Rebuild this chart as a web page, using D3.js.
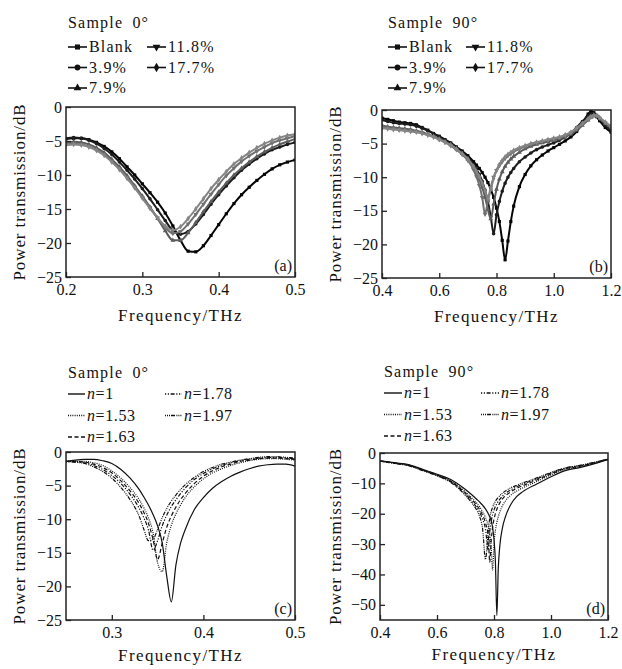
<!DOCTYPE html>
<html>
<head>
<meta charset="utf-8">
<script src="https://cdn.jsdelivr.net/npm/d3@7"></script>
<style>
body { margin: 0; background: #fff; }
svg text { font-family: "Times New Roman", "Liberation Serif", Tinos, serif; fill: #111; }
</style>
</head>
<body>
<svg id="chart"></svg>
<script>
// ---- (a) sample 0 deg, concentrations ----
var freqA = [0.20,0.21,0.22,0.23,0.24,0.25,0.26,0.27,0.28,0.29,0.30,0.31,0.32,0.33,0.34,0.35,0.36,0.37,0.38,0.39,0.40,0.41,0.42,0.43,0.44,0.45,0.46,0.47,0.48,0.49,0.50];
var blankA = [-4.7,-4.6,-4.6,-4.8,-5.2,-5.8,-6.6,-7.6,-8.8,-10.0,-11.3,-12.6,-14.0,-15.6,-17.5,-19.6,-21.2,-21.3,-20.4,-18.9,-17.3,-15.7,-14.2,-12.9,-11.8,-10.8,-9.9,-9.1,-8.5,-8.1,-7.8];
var p39A = [-4.6,-4.5,-4.6,-4.9,-5.4,-6.1,-7.0,-8.1,-9.3,-10.6,-12.0,-13.5,-15.1,-16.7,-18.2,-18.7,-18.3,-17.2,-15.8,-14.3,-12.9,-11.6,-10.4,-9.3,-8.4,-7.6,-6.9,-6.3,-5.9,-5.5,-5.2];
var p79A = [-5.2,-5.1,-5.2,-5.5,-6.0,-6.7,-7.7,-8.8,-10.1,-11.6,-13.1,-14.7,-16.4,-18.2,-19.6,-19.6,-18.5,-17.0,-15.4,-13.9,-12.5,-11.2,-10.0,-9.0,-8.1,-7.3,-6.6,-6.0,-5.5,-5.1,-4.7];
var p118A = [-5.5,-5.4,-5.5,-5.8,-6.3,-7.0,-8.0,-9.1,-10.4,-11.8,-13.3,-14.8,-16.3,-17.7,-18.6,-18.3,-17.2,-15.8,-14.3,-12.8,-11.4,-10.1,-9.0,-8.0,-7.2,-6.5,-5.9,-5.3,-4.9,-4.6,-4.3];
var p177A = [-5.6,-5.5,-5.6,-5.9,-6.4,-7.1,-8.1,-9.2,-10.5,-11.9,-13.4,-14.9,-16.3,-17.5,-18.1,-17.6,-16.4,-15.0,-13.5,-12.0,-10.7,-9.5,-8.4,-7.5,-6.7,-6.0,-5.4,-4.9,-4.5,-4.2,-4.0];

// ---- (b) sample 90 deg, concentrations ----
var freqB = [0.40,0.42,0.44,0.46,0.48,0.50,0.52,0.54,0.56,0.58,0.60,0.62,0.64,0.66,0.68,0.70,
  0.72,0.73,0.74,0.75,0.76,0.77,0.78,0.79,0.80,0.81,0.82,0.83,0.84,0.85,0.86,
  0.88,0.90,0.92,0.94,0.96,0.98,1.00,1.02,1.04,1.06,1.08,1.10,1.12,1.13,1.14,1.15,1.16,1.18,1.20];
var blankB = [-1.2,-1.4,-1.6,-1.8,-1.9,-2.0,-2.2,-2.6,-3.0,-3.5,-3.9,-4.4,-4.9,-5.5,-6.1,-6.8,
  -7.7,-8.2,-8.7,-9.3,-10.0,-10.8,-11.8,-13.0,-14.6,-16.6,-19.4,-22.3,-19.5,-16.6,-14.3,
  -11.4,-9.6,-8.3,-7.4,-6.7,-6.1,-5.6,-5.1,-4.6,-4.0,-3.2,-2.0,-0.6,-0.2,-0.4,-1.0,-1.6,-2.6,-3.3];
var p39B = [-1.5,-1.7,-1.9,-2.0,-2.1,-2.2,-2.4,-2.7,-3.1,-3.5,-4.0,-4.5,-5.0,-5.6,-6.3,-7.1,
  -8.1,-8.8,-9.6,-10.6,-11.9,-13.6,-15.9,-18.4,-15.6,-13.6,-12.1,-10.9,-10.0,-9.3,-8.7,
  -7.7,-7.0,-6.4,-5.9,-5.5,-5.2,-4.9,-4.5,-4.0,-3.4,-2.6,-1.7,-0.9,-0.6,-0.5,-0.8,-1.3,-2.3,-3.0];
var p79B = [-2.3,-2.5,-2.6,-2.7,-2.8,-2.9,-3.1,-3.3,-3.6,-3.9,-4.3,-4.7,-5.2,-5.8,-6.5,-7.3,
  -8.5,-9.3,-10.3,-11.5,-13.0,-14.8,-16.2,-14.0,-11.8,-10.3,-9.2,-8.4,-7.8,-7.3,-6.9,
  -6.3,-5.8,-5.4,-5.1,-4.9,-4.7,-4.5,-4.3,-4.0,-3.6,-3.0,-2.3,-1.5,-1.1,-0.8,-0.9,-1.3,-2.0,-2.6];
var p118B = [-2.5,-2.7,-2.8,-2.9,-3.0,-3.1,-3.2,-3.4,-3.7,-4.0,-4.4,-4.8,-5.3,-5.9,-6.6,-7.5,
  -8.9,-9.9,-11.2,-13.0,-15.5,-13.5,-11.5,-10.0,-9.0,-8.3,-7.7,-7.2,-6.8,-6.5,-6.2,
  -5.8,-5.4,-5.1,-4.9,-4.7,-4.5,-4.3,-4.1,-3.8,-3.4,-2.8,-2.1,-1.4,-1.0,-0.8,-0.9,-1.2,-1.9,-2.5];
var p177B = [-2.7,-2.8,-2.9,-3.0,-3.1,-3.2,-3.3,-3.5,-3.7,-4.0,-4.4,-4.8,-5.2,-5.8,-6.5,-7.3,
  -8.4,-9.1,-9.9,-10.9,-12.0,-13.2,-11.8,-10.2,-9.0,-8.1,-7.5,-7.0,-6.6,-6.3,-6.0,
  -5.6,-5.3,-5.0,-4.8,-4.6,-4.4,-4.2,-4.0,-3.7,-3.3,-2.7,-2.0,-1.3,-1.0,-0.8,-0.8,-1.1,-1.8,-2.4];

// ---- (c) sample 0 deg, refractive index ----
var freqC = [0.25,0.26,0.27,0.28,0.29,0.30,0.31,0.32,0.33,
  0.335,0.34,0.345,0.35,0.355,0.36,0.365,0.37,0.375,0.38,
  0.39,0.40,0.41,0.42,0.43,0.44,0.45,0.46,0.47,0.48,0.49,0.50];
var n100C = [-1.4,-1.2,-1.1,-1.1,-1.3,-1.7,-2.6,-3.9,-5.6,
  -6.7,-7.9,-9.3,-11.0,-13.5,-18.5,-22.3,-16.8,-13.6,-11.6,
  -8.6,-6.8,-5.4,-4.4,-3.6,-3.0,-2.5,-2.1,-1.9,-1.8,-1.8,-2.1];
var n153C = [-1.5,-1.4,-1.4,-1.6,-2.0,-2.8,-3.9,-5.3,-7.1,
  -8.3,-9.8,-12.0,-16.5,-17.8,-13.5,-10.9,-9.2,-7.9,-6.8,
  -5.2,-4.0,-3.1,-2.5,-2.0,-1.6,-1.3,-1.1,-1.0,-1.0,-1.1,-1.2];
var n163C = [-1.4,-1.4,-1.5,-1.8,-2.3,-3.1,-4.3,-5.8,-7.7,
  -9.0,-10.6,-13.0,-16.0,-13.6,-11.2,-9.5,-8.2,-7.1,-6.2,
  -4.7,-3.6,-2.8,-2.2,-1.8,-1.4,-1.2,-1.0,-0.9,-0.9,-1.0,-1.1];
var n178C = [-1.4,-1.5,-1.6,-2.0,-2.6,-3.5,-4.7,-6.3,-8.4,
  -9.8,-11.6,-14.6,-13.2,-11.0,-9.4,-8.1,-7.1,-6.2,-5.4,
  -4.1,-3.2,-2.5,-2.0,-1.6,-1.3,-1.1,-0.9,-0.8,-0.8,-0.9,-1.0];
var n197C = [-1.3,-1.5,-1.7,-2.2,-2.9,-3.9,-5.3,-7.1,-9.6,
  -11.5,-13.2,-13.0,-11.5,-9.8,-8.4,-7.3,-6.4,-5.6,-4.9,
  -3.8,-2.9,-2.3,-1.8,-1.5,-1.2,-1.0,-0.8,-0.7,-0.7,-0.8,-0.9];

// ---- (d) sample 90 deg, refractive index ----
var freqD = [0.40,0.45,0.50,0.55,0.60,0.65,0.70,
  0.72,0.74,0.75,0.76,0.77,0.78,0.785,0.79,0.795,0.80,0.805,0.81,0.815,0.82,0.83,0.84,
  0.86,0.88,0.90,0.95,1.00,1.05,1.10,1.15,1.20];
var n100D = [-2.5,-3.2,-3.8,-5.4,-7.0,-8.8,-12.0,
  -13.6,-15.3,-16.2,-17.2,-18.4,-20.0,-21.0,-22.3,-24.5,-28.5,-36.0,-53.5,-38.0,-31.0,-24.5,-21.0,
  -16.8,-14.3,-12.8,-10.2,-7.8,-5.8,-4.8,-3.6,-2.2];
var n153D = [-2.6,-3.3,-4.0,-5.6,-7.2,-9.2,-12.8,
  -14.6,-16.6,-17.8,-19.3,-21.2,-24.0,-26.5,-31.0,-38.5,-30.0,-25.5,-22.8,-21.0,-19.5,-17.3,-15.8,
  -13.8,-12.5,-11.5,-9.4,-7.2,-5.4,-4.5,-3.4,-2.1];
var n163D = [-2.6,-3.3,-4.0,-5.6,-7.3,-9.4,-13.2,
  -15.1,-17.3,-18.7,-20.5,-23.0,-27.5,-36.0,-29.0,-24.5,-21.8,-19.9,-18.5,-17.4,-16.5,-15.1,-14.1,
  -12.7,-11.6,-10.8,-8.9,-6.9,-5.2,-4.4,-3.3,-2.1];
var n178D = [-2.7,-3.4,-4.1,-5.7,-7.4,-9.6,-13.6,
  -15.6,-18.0,-19.6,-21.8,-25.0,-32.0,-26.0,-22.5,-20.3,-18.8,-17.6,-16.7,-15.9,-15.3,-14.2,-13.3,
  -12.1,-11.1,-10.3,-8.5,-6.6,-5.0,-4.2,-3.2,-2.0];
var n197D = [-2.7,-3.4,-4.2,-5.8,-7.5,-9.8,-14.0,
  -16.2,-18.9,-21.0,-25.0,-35.0,-25.5,-21.5,-19.3,-17.9,-16.8,-15.9,-15.2,-14.6,-14.1,-13.2,-12.5,
  -11.4,-10.6,-9.9,-8.2,-6.4,-4.9,-4.1,-3.1,-2.0];

// labels and ticks
var concLabels = ["Blank", "3.9%", "7.9%", "11.8%", "17.7%"];
var nLabels = ["1", "1.53", "1.63", "1.78", "1.97"];
var ticksX_A = [0.2, 0.3, 0.4, 0.5];
var ticksX_B = [0.4, 0.6, 0.8, 1.0, 1.2];
var ticksX_C = [0.3, 0.4, 0.5];
var ticksY_25 = [0, -5, -10, -15, -20, -25];
var ticksY_D = [0, -10, -20, -30, -40, -50];

var symbols = [d3.symbolSquare, d3.symbolCircle, d3.symbolTriangle, d3.symbolTriangle, d3.symbolDiamond];
var symbolRot = [0, 0, 0, 180, 0];
var concColors = ["#050505", "#1c1c1c", "#5c5c5c", "#707070", "#858585"];
var dashes = [null, "1,1.2", "4,2.5", "1.2,1.6,1.2,1.6,4,1.6", "1,1,1,1,1,1,4,1.4"];
var serif = '"Times New Roman", "Liberation Serif", Tinos, serif';

var svg = d3.select('#chart').attr('width', 622).attr('height', 669);

function drawPanel(p) {
    var x = d3.scaleLinear().domain(p.xDomain).range([p.left, p.right]);
    var y = d3.scaleLinear().domain(p.yDomain).range([p.bottom, p.top]);
    var g = svg.append('g');

    var clipId = 'clip' + p.tag;
    g.append('clipPath').attr('id', clipId)
        .append('rect')
        .attr('x', p.left).attr('y', p.top)
        .attr('width', p.right - p.left).attr('height', p.bottom - p.top);

    var line = d3.line()
        .x(function(d) { return x(d[0]); })
        .y(function(d) { return y(d[1]); })
        .curve(d3.curveMonotoneX);

    var plot = g.append('g').attr('clip-path', 'url(#' + clipId + ')');

    p.series.forEach(function(values, i) {
        var pts = p.freq.map(function(f, j) { return [f, values[j]]; });
        var path = plot.append('path')
            .datum(pts)
            .attr('d', line)
            .attr('fill', 'none')
            .attr('stroke', p.markers ? concColors[i] : '#111')
            .attr('stroke-width', p.markers ? 2 : 1.2);
        if (!p.markers && dashes[i]) path.attr('stroke-dasharray', dashes[i]);

        if (p.markers) {
            plot.selectAll('.m' + i)
                .data(pts)
                .enter()
                .append('path')
                .attr('d', d3.symbol().type(symbols[i]).size(10))
                .attr('transform', function(d) {
                    return 'translate(' + x(d[0]) + ',' + y(d[1]) + ') rotate(' + symbolRot[i] + ')';
                })
                .attr('fill', concColors[i]);
        }
    });

    // frame
    g.append('rect')
        .attr('x', p.left).attr('y', p.top)
        .attr('width', p.right - p.left).attr('height', p.bottom - p.top)
        .attr('fill', 'none').attr('stroke', '#222').attr('stroke-width', 1.5);

    var xAxis = g.append('g')
        .attr('transform', 'translate(0,' + p.bottom + ')')
        .call(d3.axisBottom(x).tickValues(p.xTicks).tickFormat(d3.format('.1f'))
            .tickSizeInner(-5).tickSizeOuter(0).tickPadding(7));
    var yAxis = g.append('g')
        .attr('transform', 'translate(' + p.left + ',0)')
        .call(d3.axisLeft(y).tickValues(p.yTicks).tickFormat(d3.format('d'))
            .tickSizeInner(-5).tickSizeOuter(0).tickPadding(4));

    [xAxis, yAxis].forEach(function(a) {
        a.attr('font-family', serif);
        a.select('.domain').remove();
        a.selectAll('line').attr('stroke', '#222').attr('stroke-width', 1.3);
        a.selectAll('text').attr('font-size', 16).attr('fill', '#111');
    });

    // axis titles
    g.append('text')
        .attr('x', (p.left + p.right) / 2)
        .attr('y', p.xTitleY)
        .attr('text-anchor', 'middle')
        .attr('font-size', 17)
        .attr('letter-spacing', 1.4)
        .text('Frequency/THz');

    g.append('text')
        .attr('transform', 'translate(' + p.yTitleX + ',' + ((p.top + p.bottom) / 2) + ') rotate(-90)')
        .attr('text-anchor', 'middle')
        .attr('font-size', 17)
        .attr('letter-spacing', 0.9)
        .text('Power transmission/dB');

    g.append('text')
        .attr('x', p.right - 3)
        .attr('y', p.bottom - 6)
        .attr('text-anchor', 'end')
        .attr('font-size', 16)
        .text('(' + p.tag + ')');

    drawLegend(p);
}

function drawLegend(p) {
    var lg = svg.append('g');
    var L = p.legend;
    lg.append('text')
        .attr('x', L.x).attr('y', L.y)
        .attr('font-size', 16)
        .attr('letter-spacing', 1.2)
        .attr('word-spacing', 4)
        .text(L.title);

    var labels = p.markers ? concLabels : nLabels;
    labels.forEach(function(lab, i) {
        var col = i < 3 ? 0 : 1;
        var row = i < 3 ? i : i - 3;
        var sx = col === 0 ? L.x : L.x2;
        var by = L.y + L.rowGap0 + row * L.rowGap;
        var my = by - 5;
        var seg = lg.append('line')
            .attr('x1', sx).attr('x2', sx + L.seg)
            .attr('y1', my).attr('y2', my)
            .attr('stroke', '#111')
            .attr('stroke-width', p.markers ? 1.6 : 1.4);
        if (p.markers) {
            lg.append('path')
                .attr('d', d3.symbol().type(symbols[i]).size(26))
                .attr('transform', 'translate(' + (sx + L.seg / 2) + ',' + my + ') rotate(' + symbolRot[i] + ')')
                .attr('fill', '#111');
            lg.append('text')
                .attr('x', sx + L.seg + 2).attr('y', by)
                .attr('font-size', 16)
                .attr('letter-spacing', 1.2)
                .text(lab);
        } else {
            if (dashes[i]) seg.attr('stroke-dasharray', dashes[i]);
            var t = lg.append('text')
                .attr('x', sx + L.seg + 2).attr('y', by)
                .attr('font-size', 16)
                .attr('letter-spacing', 0.6);
            t.append('tspan').attr('font-style', 'italic').text('n');
            t.append('tspan').text('=' + lab);
        }
    });
}

drawPanel({
    tag: 'a', freq: freqA, series: [blankA, p39A, p79A, p118A, p177A], markers: true,
    left: 66, right: 295, top: 107, bottom: 277,
    xDomain: [0.2, 0.5], yDomain: [-25, 0], xTicks: ticksX_A, yTicks: ticksY_25,
    xTitleY: 321, yTitleX: 25,
    legend: { title: 'Sample 0°', x: 68, y: 28, x2: 147, seg: 19, rowGap0: 24, rowGap: 20.5 }
});

drawPanel({
    tag: 'b', freq: freqB, series: [blankB, p39B, p79B, p118B, p177B], markers: true,
    left: 382, right: 611, top: 110, bottom: 278,
    xDomain: [0.4, 1.2], yDomain: [-25, 0], xTicks: ticksX_B, yTicks: ticksY_25,
    xTitleY: 322, yTitleX: 341,
    legend: { title: 'Sample 90°', x: 388, y: 28, x2: 466, seg: 19, rowGap0: 24, rowGap: 20.5 }
});

drawPanel({
    tag: 'c', freq: freqC, series: [n100C, n153C, n163C, n178C, n197C], markers: false,
    left: 66, right: 295, top: 452, bottom: 620,
    xDomain: [0.25, 0.5], yDomain: [-25, 0], xTicks: ticksX_C, yTicks: ticksY_25,
    xTitleY: 661, yTitleX: 25,
    legend: { title: 'Sample 0°', x: 68, y: 378, x2: 165, seg: 17, rowGap0: 21, rowGap: 21.5 }
});

drawPanel({
    tag: 'd', freq: freqD, series: [n100D, n153D, n163D, n178D, n197D], markers: false,
    left: 380, right: 608, top: 453, bottom: 620,
    xDomain: [0.4, 1.2], yDomain: [-55, 0], xTicks: ticksX_B, yTicks: ticksY_D,
    xTitleY: 660, yTitleX: 341,
    legend: { title: 'Sample 90°', x: 384, y: 377, x2: 481, seg: 18, rowGap0: 21, rowGap: 21.5 }
});
</script>
</body>
</html>
